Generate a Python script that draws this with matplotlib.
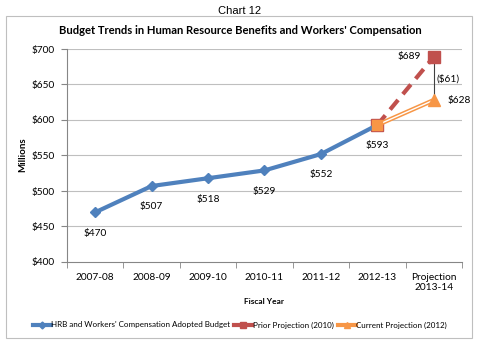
import matplotlib
matplotlib.use("Agg")
import matplotlib.pyplot as plt
from matplotlib.patches import Rectangle
from matplotlib.lines import Line2D

plt.rcParams['font.family'] = ['Lato', 'DejaVu Sans']

categories = ["2007-08", "2008-09", "2009-10", "2010-11", "2011-12", "2012-13", "Projection\n2013-14"]
adopted = [470, 507, 518, 529, 552, 593]
prior_proj = [593, 689]
current_proj = [593, 628]
gap_label = "($61)"
yticks = [400, 450, 500, 550, 600, 650, 700]

fig = plt.figure(figsize=(4.8, 3.44), dpi=100)
fig.patches.append(Rectangle((6/480, 1-338/344), 466/480, 322/344, transform=fig.transFigure,
                             fill=False, edgecolor="#bfbfbf", linewidth=0.8))
ax = fig.add_axes([67/480, 1-262/344, 395/480, 213/344])

blue = "#4F81BD"; red = "#C0504D"; orange = "#F79646"
x = list(range(len(categories)))

ax.plot(x[:6], adopted, color=blue, lw=3, marker="D", ms=5.5, zorder=4)
ax.plot(x[5:7], prior_proj, color=red, lw=3, ls=(0, (3, 1.8)), marker="s", ms=8, zorder=3)
ax.plot(x[5:7], current_proj, color=orange, lw=3.2, zorder=5)
ax.plot(x[5:7], current_proj, color="white", lw=1.0, zorder=5)
ax.plot(x[5], current_proj[0], marker="s", color=orange, ms=7, ls="none", zorder=6)
ax.plot(x[6], current_proj[1], marker="^", color=orange, ms=8, ls="none", zorder=6)
ax.plot([x[6], x[6]], [prior_proj[1], current_proj[1]], color="#404040", lw=0.8, zorder=2)

fs = 7.3
for xi, v in zip(x[:6], adopted):
    ax.annotate(f"${v}", (xi, v), xytext=(0, -15), textcoords="offset points",
                ha="center", va="center", fontsize=fs)
ax.annotate(f"${prior_proj[1]}", (x[6], prior_proj[1]), xytext=(-18, 0), textcoords="offset points",
            ha="center", va="center", fontsize=fs)
ax.annotate(f"${current_proj[1]}", (x[6], current_proj[1]), xytext=(18, 0), textcoords="offset points",
            ha="center", va="center", fontsize=fs)
ax.annotate(gap_label, (x[6], (prior_proj[1] + current_proj[1]) / 2), xytext=(10, 0),
            textcoords="offset points", ha="center", va="center", fontsize=fs)

ax.set_xlim(-0.5, len(categories) - 0.5)
ax.set_ylim(400, 700)
ax.set_yticks(yticks)
ax.set_yticklabels([f"${t}" for t in yticks], fontsize=fs)
ax.set_xticks(x)
ax.set_xticklabels(categories, fontsize=fs, linespacing=1.15)
ax.set_xticks([i - 0.5 for i in range(len(categories) + 1)], minor=True)
ax.tick_params(axis="x", which="major", length=0, pad=8)
ax.tick_params(axis="x", which="minor", length=4, color="#868686")
ax.tick_params(axis="y", length=4, color="#868686", pad=5)
for yv in yticks[1:]:
    ax.axhline(yv, color="#bfbfbf", lw=0.8, zorder=0)
for s in ["top", "right"]:
    ax.spines[s].set_visible(False)
for s in ["left", "bottom"]:
    ax.spines[s].set_color("#868686")
    ax.spines[s].set_linewidth(0.8)

fig.text(240/480, 1-11/344, "Chart 12", ha="center", va="center", fontsize=8,
         family=["Liberation Sans", "DejaVu Sans"])
fig.text(240/480, 1-31/344, "Budget Trends in Human Resource Benefits and Workers' Compensation",
         ha="center", va="center", fontsize=8.1, fontweight="bold")
fig.text(23/480, 1-155/344, "Millions", rotation=90, ha="center", va="center", fontsize=7, fontweight="bold")
fig.text(264/480, 1-302/344, "Fiscal Year", ha="center", va="center", fontsize=6, fontweight="bold")

handles = [Line2D([], [], color=blue, lw=3, marker="D", ms=3.5),
           Line2D([], [], color=red, lw=3, marker="s", ms=4.5),
           Line2D([], [], color=orange, lw=3, marker="^", ms=4.5)]
labels = ["HRB and Workers' Compensation Adopted Budget", "Prior Projection (2010)", "Current Projection (2012)"]
fig.legend(handles, labels, loc="center", bbox_to_anchor=(240/480, 1-325/344), ncol=3, frameon=False,
           fontsize=5.8, handlelength=2.2, handletextpad=0.1, columnspacing=0.5)

fig.savefig("out.png", dpi=100)
